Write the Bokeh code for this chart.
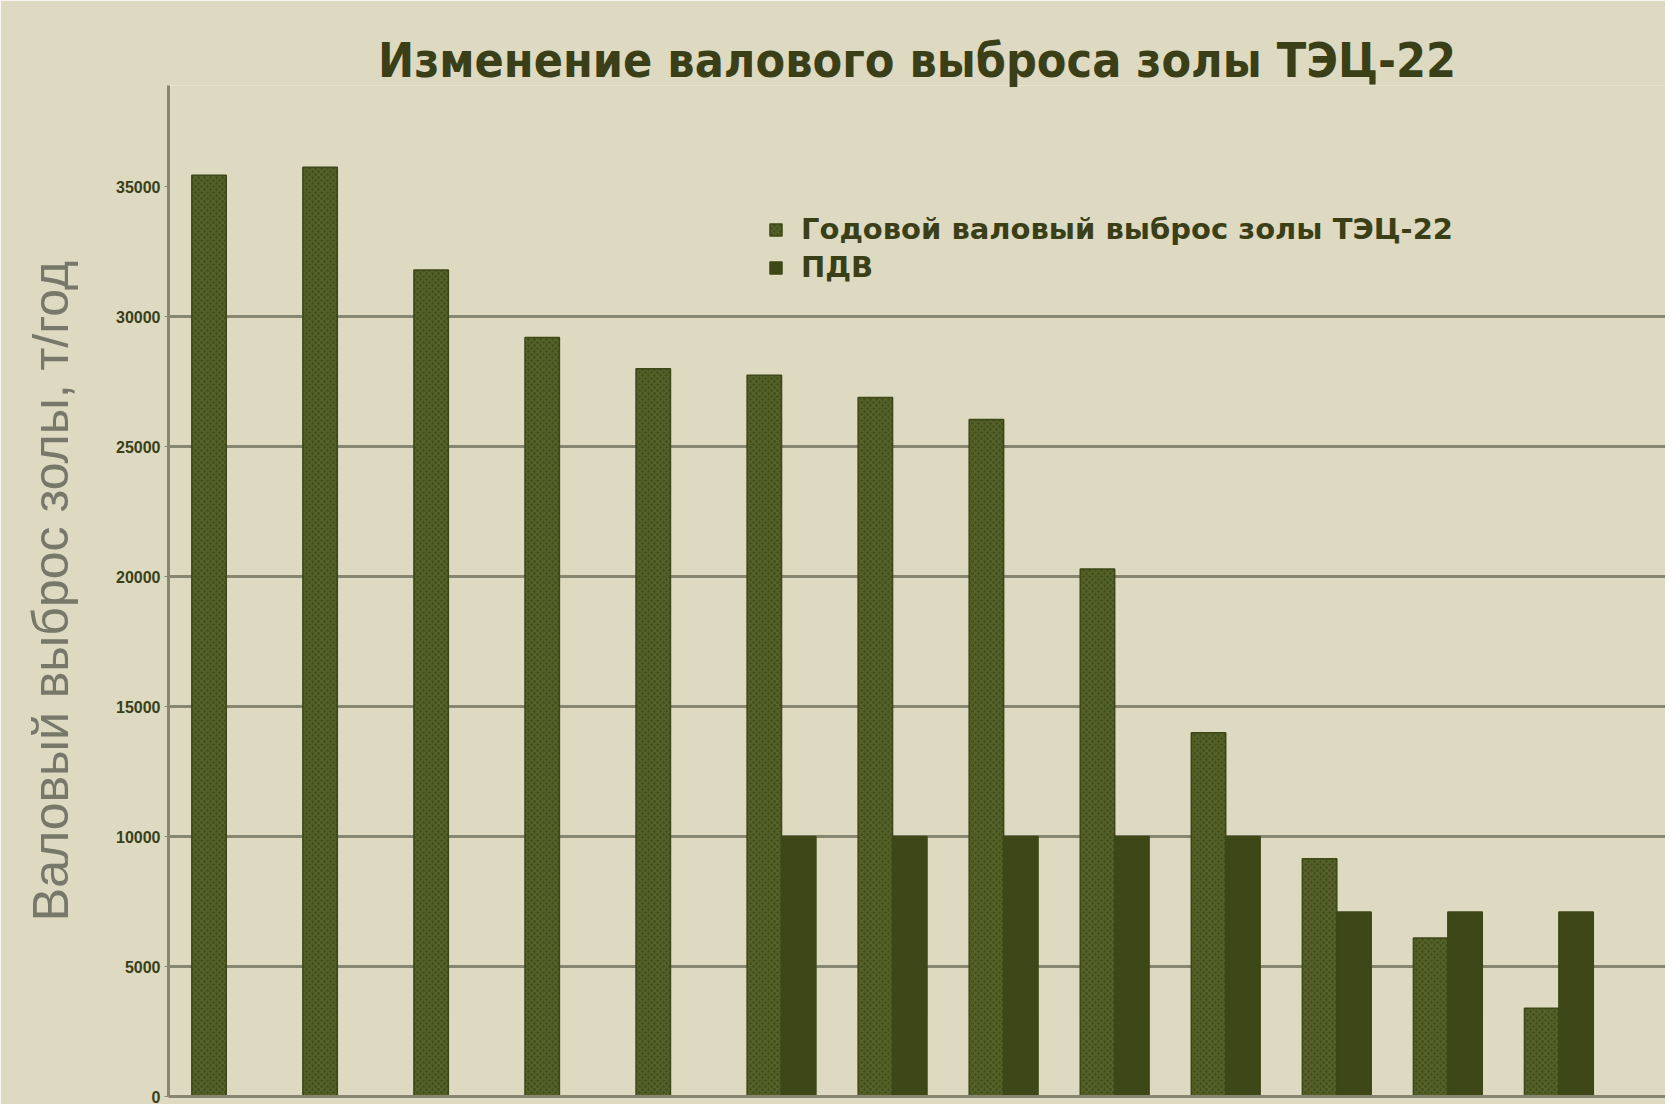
from bokeh.plotting import figure
from bokeh.models import Range1d, ColumnDataSource, FixedTicker, Legend, LegendItem
from bokeh.embed import file_html
from bokeh.resources import INLINE

# ---- data ----
years = ["1990", "1991", "1992", "1993", "1994", "1995", "1996",
         "1997", "1998", "1999", "2000", "2001", "2002"]
emission = [35450, 35750, 31800, 29200, 28000, 27750, 26900,
            26050, 20300, 14000, 9150, 6100, 3400]
pdv = [None, None, None, None, None, 10000, 10000,
       10000, 10000, 10000, 7100, 7100, 7100]
y_ticks = [0, 5000, 10000, 15000, 20000, 25000, 30000, 35000]
grid_ticks = [5000, 10000, 15000, 20000, 25000, 30000]

title_text = "Изменение валового выброса золы ТЭЦ-22"
y_label = "Валовый выброс золы, т/год"
series_names = ["Годовой валовый выброс золы ТЭЦ-22", "ПДВ"]

BG = "#dddac1"
BAR = "#46521c"
BAR_DARK = "#3d4717"
TEXT = "#3a3f18"
GRID = "#878670"

W, H = 1665, 1104
bar_w = 0.31
pos = [i + 0.5 for i in range(len(years))]

src1 = ColumnDataSource(dict(x=[c - bar_w / 2 for c in pos], top=emission, year=years))
idx = [i for i, v in enumerate(pdv) if v is not None]
src2 = ColumnDataSource(dict(x=[pos[i] + bar_w / 2 for i in idx],
                             top=[pdv[i] for i in idx],
                             year=[years[i] for i in idx]))

p = figure(width=W, height=H, output_backend="svg", toolbar_location=None,
           x_range=Range1d(-0.02, 13.46), y_range=Range1d(0, 38900),
           min_border_left=168, min_border_right=0, min_border_bottom=8,
           min_border_top=85)

p.background_fill_color = BG
p.border_fill_color = BG
p.outline_line_color = None

p.title.text = title_text
p.title.align = "center"
p.title.text_font = "DejaVu Sans Condensed"
p.title.text_font_style = "bold"
p.title.text_font_size = "48px"
p.title.text_color = TEXT
p.title.standoff = -4

r1 = p.vbar(x="x", top="top", width=bar_w, bottom=0, source=src1,
            fill_color=BAR, line_color=BAR_DARK, line_width=1.5,
            hatch_pattern="diagonal_cross", hatch_color="#8c9a62",
            hatch_alpha=0.28, hatch_scale=6, hatch_weight=1.2)
r2 = p.vbar(x="x", top="top", width=bar_w, bottom=0, source=src2,
            fill_color=BAR_DARK, line_color=BAR_DARK, line_width=1.5)

# axes
p.xaxis.ticker = FixedTicker(ticks=[])
p.xaxis.major_tick_line_color = None
p.xaxis.minor_tick_line_color = None
p.xaxis.axis_line_color = GRID
p.xaxis.axis_line_width = 3

p.yaxis.ticker = FixedTicker(ticks=y_ticks)
p.yaxis.minor_tick_line_color = None
p.yaxis.major_tick_line_color = GRID
p.yaxis.major_tick_out = 4
p.yaxis.major_tick_in = 0
p.yaxis.major_label_standoff = 4
p.yaxis.major_label_text_font = "Liberation Sans"
p.yaxis.major_label_text_font_style = "bold"
p.yaxis.major_label_text_font_size = "16px"
p.yaxis.major_label_text_color = TEXT
p.yaxis.axis_line_color = GRID
p.yaxis.axis_line_width = 3
p.yaxis.axis_label = y_label
p.yaxis.axis_label_text_font = "Liberation Sans"
p.yaxis.axis_label_text_font_style = "normal"
p.yaxis.axis_label_text_font_size = "50px"
p.yaxis.axis_label_text_color = "#77786a"
p.yaxis.axis_label_standoff = 34

p.xgrid.grid_line_color = None
p.ygrid.ticker = FixedTicker(ticks=grid_ticks)
p.ygrid.grid_line_color = GRID
p.ygrid.grid_line_width = 3

legend = Legend(items=[LegendItem(label=series_names[0], renderers=[r1]),
                       LegendItem(label=series_names[1], renderers=[r2])],
                location=(600, 812), border_line_color=None,
                background_fill_alpha=0, padding=0, margin=0, spacing=4,
                glyph_width=15, glyph_height=15, label_standoff=18,
                label_height=34, label_text_font="DejaVu Sans",
                label_text_font_style="bold", label_text_font_size="29px",
                label_text_color=TEXT)
p.add_layout(legend)

open("out.html", "w").write(file_html(p, INLINE))
